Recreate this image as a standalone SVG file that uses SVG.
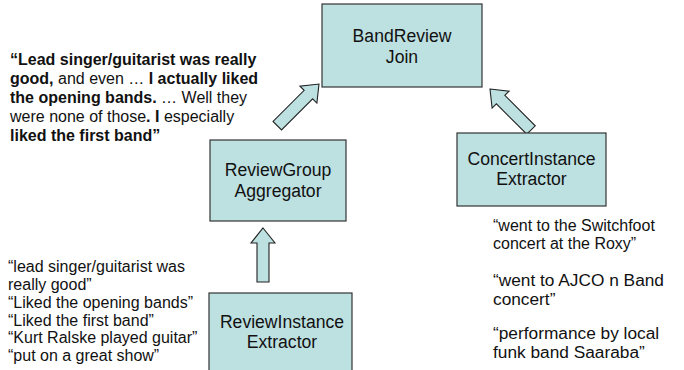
<svg xmlns="http://www.w3.org/2000/svg" width="684" height="370" viewBox="0 0 684 370">
<style>
.box{fill:#bde0e1;stroke:#333;stroke-width:1.2}
.arr{fill:#bde0e1;stroke:#222;stroke-width:1.1;stroke-linejoin:miter}
.lbl{font-family:"Liberation Sans",Arial,sans-serif;font-size:17.6px;fill:#111;text-anchor:middle}
.q{font-family:"Liberation Sans",Arial,sans-serif;font-size:16px;fill:#111}
.big{font-size:17.3px}
.b{font-weight:bold}
</style>
<rect width="684" height="370" fill="#fff"/>
<g id="connectors">
<polygon class="arr" transform="translate(319,84) rotate(45)" points="0,0 12,15 6,15 6,59 -6,59 -6,15 -12,15"/>
<polygon class="arr" transform="translate(490,89) rotate(-45)" points="0,0 12,15 6,15 6,58 -6,58 -6,15 -12,15"/>
<polygon class="arr" points="263,228 275,243 269,243 269,282 257,282 257,243 251,243"/>
</g>
<g id="bandReviewJoin">
<rect class="box" x="322" y="4" width="160" height="83"/>
<text class="lbl" x="402" y="42">BandReview</text>
<text class="lbl" x="402" y="63">Join</text>
</g>
<g id="reviewGroupAggregator">
<rect class="box" x="210" y="140" width="136" height="81"/>
<text class="lbl" x="278" y="176">ReviewGroup</text>
<text class="lbl" x="278" y="196.5">Aggregator</text>
</g>
<g id="concertInstanceExtractor">
<rect class="box" x="457" y="133" width="149" height="73"/>
<text class="lbl" x="531.5" y="165">ConcertInstance</text>
<text class="lbl" x="531.5" y="185">Extractor</text>
</g>
<g id="reviewInstanceExtractor">
<rect class="box" x="209" y="293" width="143" height="82"/>
<text class="lbl" x="282" y="328">ReviewInstance</text>
<text class="lbl" x="282" y="347.5">Extractor</text>
</g>
<g id="reviewQuote">
<text class="q" x="10" y="65"><tspan class="b">“Lead singer/guitarist was really</tspan></text>
<text class="q" x="10" y="84"><tspan class="b">good,</tspan> and even … <tspan class="b">I actually liked</tspan></text>
<text class="q" x="10" y="103"><tspan class="b">the opening bands.</tspan> …  Well they</text>
<text class="q" x="10" y="122">were none of those<tspan class="b">. I</tspan> especially</text>
<text class="q" x="10" y="140.5"><tspan class="b">liked the first band”</tspan></text>
</g>
<g id="reviewInstances">
<text class="q" x="8" y="272">“lead singer/guitarist was</text>
<text class="q" x="8" y="289.5">really good”</text>
<text class="q" x="8" y="307.5">“Liked the opening bands”</text>
<text class="q" x="8" y="325.5">“Liked the first band”</text>
<text class="q" x="8" y="343">“Kurt Ralske played guitar”</text>
<text class="q" x="8" y="361">“put on a great show”</text>
</g>
<g id="concertInstances">
<text class="q" x="493" y="231">“went to the Switchfoot</text>
<text class="q" x="493" y="249">concert at the Roxy”</text>
<text class="q big" x="493" y="286">“went to AJCO n Band</text>
<text class="q big" x="493" y="304.5">concert”</text>
<text class="q big" x="493" y="339">“performance by local</text>
<text class="q big" x="493" y="357.5">funk band Saaraba”</text>
</g>
</svg>
